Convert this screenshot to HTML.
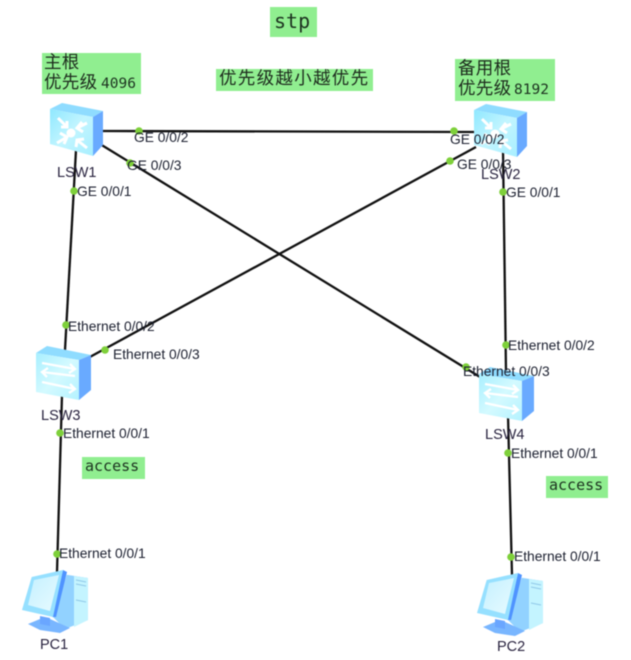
<!DOCTYPE html>
<html><head><meta charset="utf-8">
<style>
html,body{margin:0;padding:0;background:#fff;width:631px;height:660px;overflow:hidden}
svg{display:block;filter:blur(.4px)}
.l{font:13.800px "Liberation Sans",sans-serif;fill:#1c2030}
.n{font:14.500px "Liberation Sans",sans-serif;fill:#2a2440}
.c{font-family:"Liberation Sans","Noto Sans CJK SC",sans-serif;font-size:17.500px;fill:#1d2b1d}
.m{font-family:"DejaVu Sans Mono","Liberation Mono",monospace;fill:#1d3320}
</style></head><body>
<svg width="631" height="660" viewBox="0 0 631 660" xmlns="http://www.w3.org/2000/svg">
<defs>
<linearGradient id="f" x1="0" y1="0" x2="1" y2="1"><stop offset="0" stop-color="#8fe8ff"/><stop offset=".5" stop-color="#c2f5ff"/><stop offset="1" stop-color="#a8efff"/></linearGradient>
<linearGradient id="s" x1="0" y1="0" x2="1" y2="1"><stop offset="0" stop-color="#a8efff"/><stop offset=".5" stop-color="#d4faff"/><stop offset="1" stop-color="#b4f2ff"/></linearGradient>
<linearGradient id="scr" x1="0" y1="0" x2="1" y2="1"><stop offset="0" stop-color="#c4f0ff"/><stop offset="1" stop-color="#e8fbff"/></linearGradient>
<g id="core">
<polygon points="13,0 54,8 44,14 1,6" fill="#8fdcff"/>
<polygon points="1,6 44,14 44,53 1,41" fill="url(#f)"/>
<polygon points="44,14 54,8 54,42 44,53" fill="#69aaff"/>
<g stroke="#fff" stroke-width="3" fill="none">
<path d="M9,15 L18,24 M12,24 L18,24 L18,18"/><path d="M38,20 L28,25 M33,19 L28,25 L34,29"/>
<path d="M8,40 L18,34 M11,30 L18,34 L15,41"/><path d="M38,45 L28,37 M27,44 L28,37 L35,36"/>
</g><circle cx="22" cy="30" r="4.500" fill="#fff"/>
</g>
<g id="sw">
<polygon points="11,0 55,9 43,14 0,7" fill="#8fdcff"/>
<polygon points="0,7 43,14 43,54 0,46" fill="url(#s)"/>
<polygon points="43,14 55,9 55,44 43,54" fill="#69aaff"/>
<g stroke="#fff" stroke-width="2.300" fill="none">
<path d="M6,17 L39,23 M34,18 L39,23 L33,27"/><path d="M39,30 L6,26 M12,22 L6,26 L11,31"/><path d="M6,36 L39,43 M34,38 L39,43 L33,47"/>
</g>
</g>
<g id="pc">
<polygon points="43.700,4.700 65,8 65,50 42,59 30,47" fill="#92d2ff"/>
<polygon points="51,6 65,8 65,50 51,57" fill="#c4f4ff"/>
<g stroke="#8fc8e8" stroke-width="1" fill="none"><path d="M53,10 L63,12 M53,14 L63,16 M53,30 L63,32"/></g>
<polygon points="5,54 17,49 27,49 47,58 37,63 17,60" fill="#79b6ff"/>
<polygon points="17,46 27,48 27,56 17,54" fill="#6aa6ff"/>
<polygon points="40,0 44,2 33,47 29,47" fill="#4f93ff"/>
<polygon points="8.700,7 40,0 30,47 -1,40" fill="#96e0ff"/>
<polygon points="11,10 36,5 27,41 5,35" fill="url(#scr)"/>
</g>
</defs>
<rect width="631" height="660" fill="#fff"/>

<g stroke="#111" stroke-width="2.300" fill="none">
<line x1="100" y1="131" x2="475" y2="132"/>
<line x1="100" y1="144" x2="480" y2="377"/>
<line x1="76" y1="150" x2="65" y2="350"/>
<line x1="476" y1="147" x2="88" y2="358"/>
<line x1="503" y1="150" x2="506" y2="372"/>
<line x1="62" y1="395" x2="57" y2="572"/>
<line x1="508" y1="415" x2="512" y2="575"/>
</g>

<use href="#core" x="49" y="103"/>
<use href="#core" x="473" y="104"/>
<use href="#sw" x="36" y="346"/>
<use href="#sw" x="479" y="367"/>
<use href="#pc" x="23" y="570"/>
<use href="#pc" x="478" y="573"/>

<g fill="#7ed03a">
<circle cx="139" cy="131" r="3.800"/><circle cx="130" cy="163" r="3.800"/><circle cx="74" cy="191" r="3.800"/>
<circle cx="454" cy="131" r="3.800"/><circle cx="450" cy="161" r="3.800"/><circle cx="503" cy="192" r="3.800"/>
<circle cx="66" cy="325" r="3.800"/><circle cx="105" cy="350" r="3.800"/><circle cx="60" cy="433" r="3.800"/>
<circle cx="506" cy="345" r="3.800"/><circle cx="466" cy="367" r="3.800"/><circle cx="508" cy="453" r="3.800"/>
<circle cx="57" cy="554" r="3.800"/><circle cx="511" cy="557" r="3.800"/>
</g>

<text class="l" x="134" y="142">GE 0/0/2</text>
<text class="l" x="127" y="170">GE 0/0/3</text>
<text class="l" x="77" y="196">GE 0/0/1</text>
<text class="l" x="450" y="144">GE 0/0/2</text>
<text class="l" x="457" y="169">GE 0/0/3</text>
<text class="l" x="506" y="197">GE 0/0/1</text>
<text class="l" x="68" y="331">Ethernet 0/0/2</text>
<text class="l" x="113" y="359">Ethernet 0/0/3</text>
<text class="l" x="63" y="438">Ethernet 0/0/1</text>
<text class="l" x="508" y="350">Ethernet 0/0/2</text>
<text class="l" x="463" y="376">Ethernet 0/0/3</text>
<text class="l" x="511" y="458">Ethernet 0/0/1</text>
<text class="l" x="59" y="558">Ethernet 0/0/1</text>
<text class="l" x="514" y="561">Ethernet 0/0/1</text>

<text class="n" x="57" y="177">LSW1</text>
<text class="n" x="481" y="179">LSW2</text>
<text class="n" x="41" y="420">LSW3</text>
<text class="n" x="485" y="439">LSW4</text>
<text class="n" x="40" y="649">PC1</text>
<text class="n" x="497" y="651">PC2</text>

<g fill="#90ee90">
<rect x="270" y="7" width="47" height="30"/>
<rect x="42" y="53" width="99" height="41"/>
<rect x="216" y="69" width="157" height="22"/>
<rect x="455" y="59" width="100" height="42"/>
<rect x="82" y="457" width="63" height="22"/>
<rect x="546" y="476" width="62" height="22"/>
</g>
<text class="m" x="274" y="28" font-size="20">stp</text>
<text class="c" x="44" y="68" letter-spacing=".3">主根</text>
<text class="c" x="44" y="88" letter-spacing=".3">优先级</text>
<text class="m" x="101" y="88" font-size="14.500">4096</text>
<text class="c" x="219" y="84" letter-spacing="1.300">优先级越小越优先</text>
<text class="c" x="458" y="74" letter-spacing=".3">备用根</text>
<text class="c" x="458" y="94" letter-spacing=".3">优先级</text>
<text class="m" x="514" y="94" font-size="14.500">8192</text>
<text class="m" x="85" y="471" font-size="15">access</text>
<text class="m" x="549" y="490" font-size="15">access</text>
</svg>
</body></html>
